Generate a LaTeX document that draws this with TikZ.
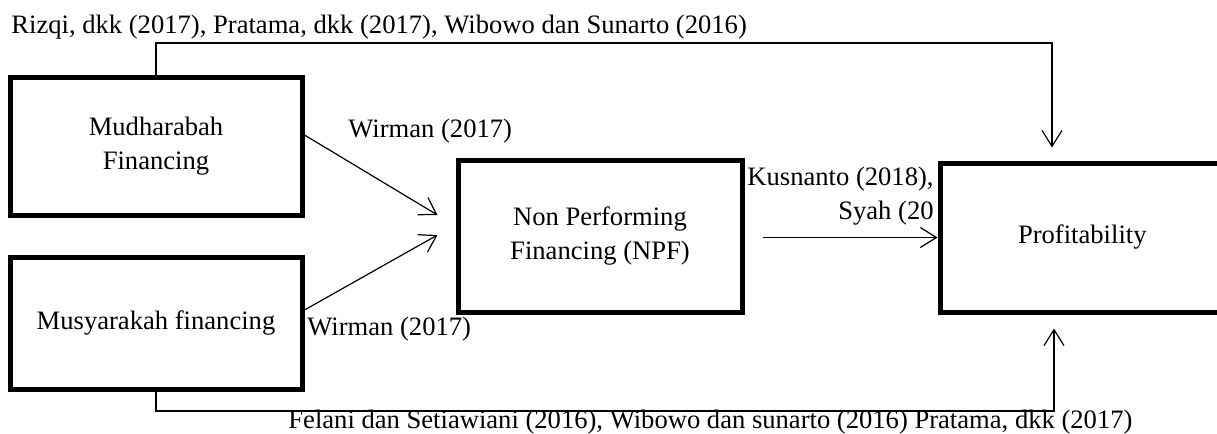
\documentclass[tikz,border=0pt]{standalone}
\usepackage{fontspec}
\setmainfont{Liberation Serif}
\usetikzlibrary{arrows.meta,positioning}

\begin{document}
\begin{tikzpicture}[
  x=0.5pt, y=-0.5pt,
  font=\fontsize{13.3}{17}\selectfont, >={Straight Barb[length=8pt,width=10pt]},
  varbox/.style={draw, line width=2.5pt, fill=white, align=center, inner sep=0pt,
    minimum width=146pt, minimum height=69pt},
  link/.style={->, line width=0.6pt},
  reflabel/.style={inner sep=0pt},
]
\useasboundingbox (0,0) rectangle (1217,434);
% --- variable boxes ---
\node[varbox] (mudh) at (156,146) {Mudharabah\\Financing};
\node[varbox, minimum height=66pt] (musy) at (156,323) {Musyarakah financing};
\node[varbox, minimum width=142pt, minimum height=76pt] (npf) at (600,236) {Non Performing\\Financing (NPF)};
% --- reference labels ---
\node[reflabel, anchor=base west] (reftop) at (11,33)
  {Rizqi, dkk (2017), Pratama, dkk (2017), Wibowo dan Sunarto (2016)};
\node[reflabel, anchor=base west] (refmudh) at (348,137) {Wirman (2017)};
\node[reflabel, anchor=base west] (refmusy) at (307,335) {Wirman (2017)};
\node[reflabel, align=right, anchor=north east] (refnpf) at (934,167) {Kusnanto (2018),\\Syah (20};
\node[reflabel, anchor=base west] (refbot) at (288,428)
  {Felani dan Setiawiani (2016), Wibowo dan sunarto (2016) Pratama, dkk (2017)};
% --- dependent variable, runs off the right edge (covers the cut label) ---
\node[varbox, minimum width=170pt, minimum height=74.5pt, text width=92pt, align=left] (prof) at (1110,237.5) {Profitability};
% --- connectors ---
\coordinate (toprt) at (1052,43);
\coordinate (botrt) at (1054,411);
\draw[link, shorten >=6.5pt] (mudh.north) |- (toprt) -- (toprt |- prof.north);
\draw[link, shorten >=7pt] (musy.south) |- (botrt) -- (botrt |- prof.south);
\draw[link] ([yshift=5.5pt]mudh.east) -- ([xshift=-9pt,yshift=10.5pt]npf.west);
\draw[link] ([yshift=6.5pt]musy.east) -- ([xshift=-9pt,yshift=0.5pt]npf.west);
\draw[link, shorten <=9pt] (npf.east |- prof.west) -- (prof.west);
\end{tikzpicture}
\end{document}
